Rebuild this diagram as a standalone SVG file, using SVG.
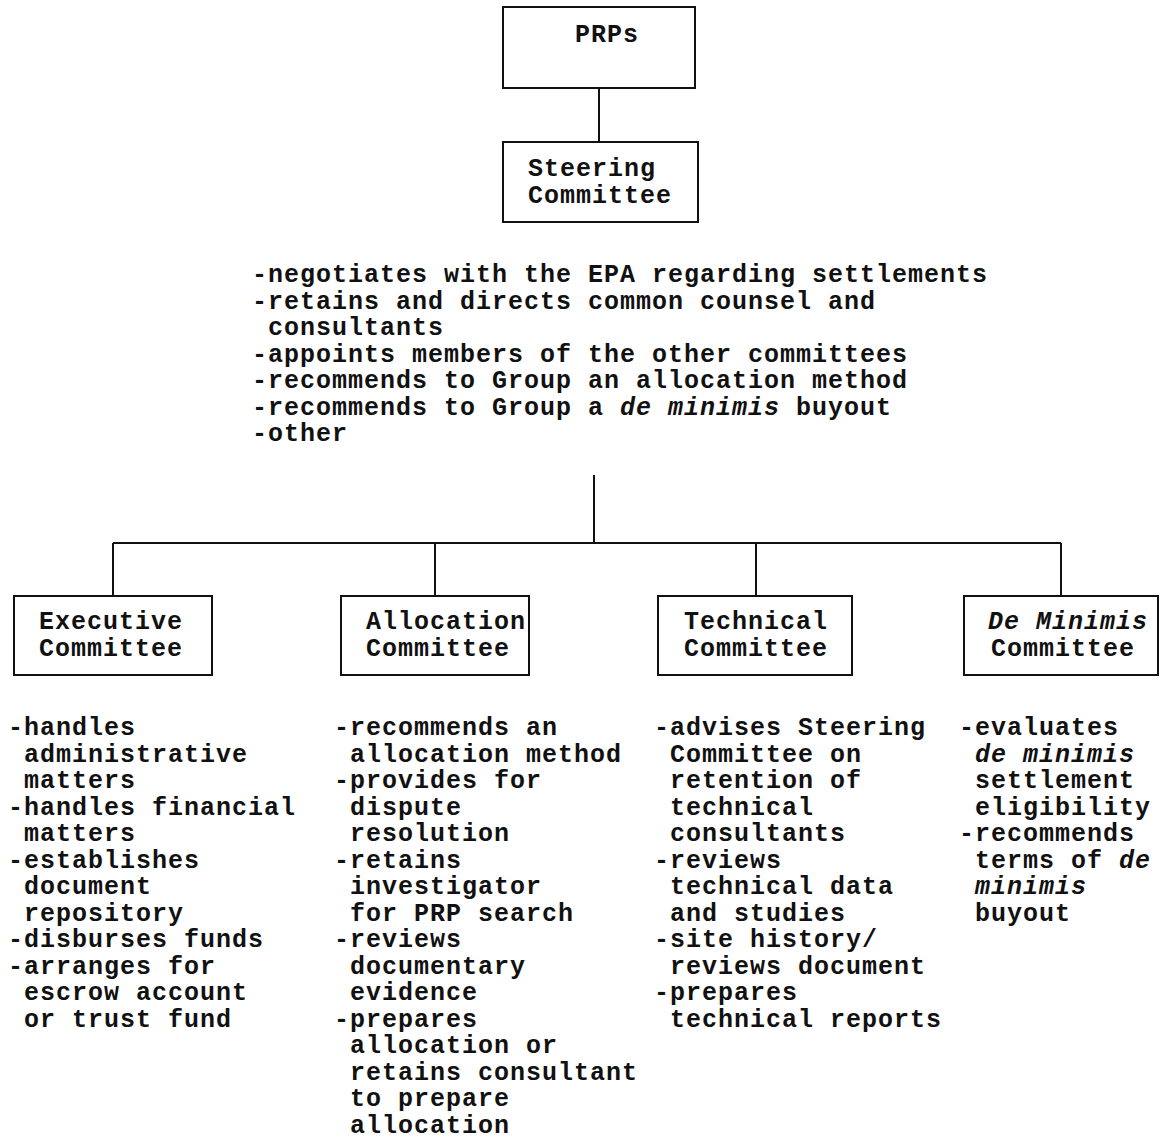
<svg xmlns="http://www.w3.org/2000/svg" width="1164" height="1140" viewBox="0 0 1164 1140">
<style>
text{font-family:"Liberation Mono","Courier New",monospace;font-size:25px;font-weight:bold;letter-spacing:1px;fill:#111}
.box{fill:#fff;stroke:#111;stroke-width:2}
.ln{stroke:#111;stroke-width:2;fill:none}
.i{font-style:italic}
</style>
<rect width="1164" height="1140" fill="#fff"/>
<g id="connectors">
<line class="ln" x1="599" y1="88" x2="599" y2="142"/>
<line class="ln" x1="594" y1="475" x2="594" y2="543"/>
<line class="ln" x1="113" y1="543" x2="1061" y2="543"/>
<line class="ln" x1="113" y1="543" x2="113" y2="596"/>
<line class="ln" x1="435" y1="543" x2="435" y2="596"/>
<line class="ln" x1="756" y1="543" x2="756" y2="596"/>
<line class="ln" x1="1061" y1="543" x2="1061" y2="596"/>
</g>
<g id="prps">
<rect class="box" x="503" y="7" width="192" height="81"/>
<text x="575" y="42">PRPs</text>
</g>
<g id="steering">
<rect class="box" x="503" y="142" width="195" height="80"/>
<text x="528" y="176">Steering</text>
<text x="528" y="203">Committee</text>
</g>
<g id="steering-duties">
<text x="252" y="282">-negotiates with the EPA regarding settlements</text>
<text x="252" y="308.5">-retains and directs common counsel and</text>
<text x="268" y="335">consultants</text>
<text x="252" y="361.5">-appoints members of the other committees</text>
<text x="252" y="388">-recommends to Group an allocation method</text>
<text x="252" y="414.5">-recommends to Group a <tspan class="i">de minimis</tspan> buyout</text>
<text x="252" y="441">-other</text>
</g>
<g id="executive">
<rect class="box" x="14" y="596" width="198" height="79"/>
<text x="39" y="629">Executive</text>
<text x="39" y="656">Committee</text>
</g>
<g id="allocation">
<rect class="box" x="341" y="596" width="188" height="79"/>
<text x="366" y="629">Allocation</text>
<text x="366" y="656">Committee</text>
</g>
<g id="technical">
<rect class="box" x="658" y="596" width="194" height="79"/>
<text x="684" y="629">Technical</text>
<text x="684" y="656">Committee</text>
</g>
<g id="deminimis">
<rect class="box" x="964" y="596" width="194" height="79"/>
<text x="988" y="629" class="i">De Minimis</text>
<text x="991" y="656">Committee</text>
</g>
<g id="executive-duties">
<text x="8" y="735">-handles</text>
<text x="24" y="761.5">administrative</text>
<text x="24" y="788">matters</text>
<text x="8" y="814.5">-handles financial</text>
<text x="24" y="841">matters</text>
<text x="8" y="867.5">-establishes</text>
<text x="24" y="894">document</text>
<text x="24" y="920.5">repository</text>
<text x="8" y="947">-disburses funds</text>
<text x="8" y="973.5">-arranges for</text>
<text x="24" y="1000">escrow account</text>
<text x="24" y="1026.5">or trust fund</text>
</g>
<g id="allocation-duties">
<text x="334" y="735">-recommends an</text>
<text x="350" y="761.5">allocation method</text>
<text x="334" y="788">-provides for</text>
<text x="350" y="814.5">dispute</text>
<text x="350" y="841">resolution</text>
<text x="334" y="867.5">-retains</text>
<text x="350" y="894">investigator</text>
<text x="350" y="920.5">for PRP search</text>
<text x="334" y="947">-reviews</text>
<text x="350" y="973.5">documentary</text>
<text x="350" y="1000">evidence</text>
<text x="334" y="1026.5">-prepares</text>
<text x="350" y="1053">allocation or</text>
<text x="350" y="1079.5">retains consultant</text>
<text x="350" y="1106">to prepare</text>
<text x="350" y="1132.5">allocation</text>
</g>
<g id="technical-duties">
<text x="654" y="735">-advises Steering</text>
<text x="670" y="761.5">Committee on</text>
<text x="670" y="788">retention of</text>
<text x="670" y="814.5">technical</text>
<text x="670" y="841">consultants</text>
<text x="654" y="867.5">-reviews</text>
<text x="670" y="894">technical data</text>
<text x="670" y="920.5">and studies</text>
<text x="654" y="947">-site history/</text>
<text x="670" y="973.5">reviews document</text>
<text x="654" y="1000">-prepares</text>
<text x="670" y="1026.5">technical reports</text>
</g>
<g id="deminimis-duties">
<text x="959" y="735">-evaluates</text>
<text x="975" y="761.5" class="i">de minimis</text>
<text x="975" y="788">settlement</text>
<text x="975" y="814.5">eligibility</text>
<text x="959" y="841">-recommends</text>
<text x="975" y="867.5">terms of <tspan class="i">de</tspan></text>
<text x="975" y="894" class="i">minimis</text>
<text x="975" y="920.5">buyout</text>
</g>
</svg>
